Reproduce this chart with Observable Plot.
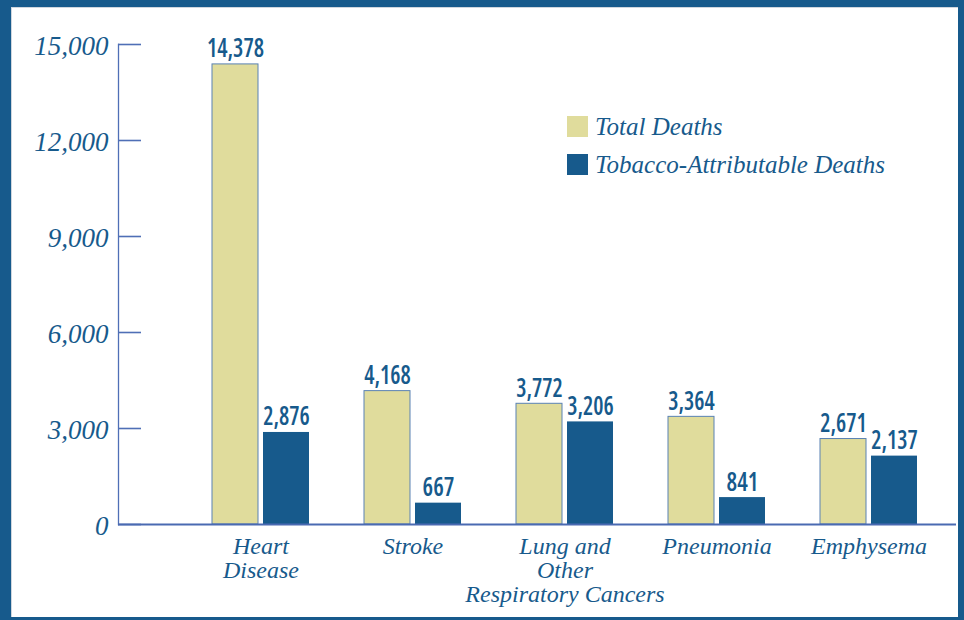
<!DOCTYPE html>
<html>
<head>
<meta charset="utf-8">
<script src="https://cdn.jsdelivr.net/npm/d3@7"></script>
<script src="https://cdn.jsdelivr.net/npm/@observablehq/plot@0.6"></script>
<style>
  body { margin: 0; background: #fff; }
  #wrap { position: relative; width: 964px; height: 620px; overflow: hidden; background: #fff; }
  #chart { position: absolute; left: 0; top: 0; }
  #frame { position: absolute; left: 0; top: 0; width: 964px; height: 620px; box-sizing: border-box;
           border-style: solid; border-color: #175a8c; border-width: 7px 6px 3px 11px;
           box-shadow: inset 1px 1px 0 #cfd6de; pointer-events: none; }
  #legend { position: absolute; left: 567px; top: 116px; font-family: "Liberation Serif", serif;
            font-style: italic; font-size: 25px; color: #175a8c; }
  .row { display: flex; align-items: center; height: 21px; margin-bottom: 17px; white-space: nowrap; }
  .sw { width: 21px; height: 21px; margin-right: 7px; flex: none; }
</style>
</head>
<body>
<div id="wrap">
  <div id="chart"></div>
  <div id="legend"></div>
  <div id="frame"></div>
</div>
<script>
const categories = ["Heart Disease", "Stroke", "Lung and Other Respiratory Cancers", "Pneumonia", "Emphysema"];
const categoryLabels = ["Heart\nDisease", "Stroke", "Lung and\nOther\nRespiratory Cancers", "Pneumonia", "Emphysema"];
const totalDeaths = [14378, 4168, 3772, 3364, 2671];
const tobaccoDeaths = [2876, 667, 3206, 841, 2137];
const yTicks = [0, 3000, 6000, 9000, 12000, 15000];
const seriesNames = ["Total Deaths", "Tobacco-Attributable Deaths"];
const seriesColors = ["#e0dc9c", "#175a8c"];

const ink = "#175a8c";
const axisBlue = "#4f6fb6";
const fmt = d3.format(",");

const totalRows = categories.map((c, i) => ({category: c, value: totalDeaths[i]}));
const tobaccoRows = categories.map((c, i) => ({category: c, value: tobaccoDeaths[i]}));

const W = 964, H = 620, mL = 118, mR = 8, mT = 44, mB = 96;

const serif = "'Liberation Serif', 'DejaVu Serif', serif";
const narrow = "'DejaVu Sans Condensed', 'DejaVu Sans', sans-serif";
const valueSize = 27;

const chart = Plot.plot({
  width: W, height: H,
  marginLeft: mL, marginRight: mR, marginTop: mT, marginBottom: mB,
  style: {background: "transparent", overflow: "visible"},
  x: {type: "band", domain: categories, range: [210, 918], paddingInner: 0.364, paddingOuter: 0, axis: null},
  y: {domain: [0, 15000], axis: null},
  marks: [
    Plot.frame({anchor: "left", stroke: axisBlue, strokeWidth: 1.3}),
    Plot.ruleY(yTicks, {stroke: axisBlue, strokeWidth: 1.6, insetRight: (W - mR) - 141}),
    Plot.axisY({ticks: yTicks, tickSize: 0, tickPadding: 10, tickFormat: fmt, label: null,
      fontSize: 27, fontStyle: "italic", fontFamily: serif, fill: ink, dy: 2}),
    Plot.barY(totalRows, {x: "category", y: "value", fill: seriesColors[0], stroke: "#5a82b4", strokeWidth: 1, insetRight: 51}),
    Plot.barY(tobaccoRows, {x: "category", y: "value", fill: seriesColors[1], insetLeft: 51}),
    Plot.ruleY([0], {stroke: "#4a6ab2", strokeWidth: 2}),
    Plot.text(totalRows, {x: "category", y: "value", text: d => fmt(d.value), dx: -25.5, dy: -7,
      lineAnchor: "bottom", fontSize: valueSize, fontWeight: "bold", fontFamily: narrow, fill: ink}),
    Plot.text(tobaccoRows, {x: "category", y: "value", text: d => fmt(d.value), dx: 25.5, dy: -7,
      lineAnchor: "bottom", fontSize: valueSize, fontWeight: "bold", fontFamily: narrow, fill: ink}),
    Plot.axisX({tickSize: 0, tickPadding: 12, label: null,
      tickFormat: d => categoryLabels[categories.indexOf(d)],
      fontSize: 24, fontStyle: "italic", fontFamily: serif, fill: ink, lineHeight: 1.0})
  ]
});
document.getElementById("chart").append(chart);

// pick the narrowest available face for the value labels (the reference uses a condensed sans)
const candidates = [
  {family: "'Roboto Condensed'", stretch: "normal", weight: "bold"},
  {family: "'Liberation Sans Narrow'", stretch: "normal", weight: "bold"},
  {family: "'Noto Sans'", stretch: "62.5%", weight: "600"},
  {family: "'Open Sans'", stretch: "75%", weight: "600"},
  {family: "'DejaVu Sans Condensed'", stretch: "normal", weight: "bold"}
];
const svgNS = "http://www.w3.org/2000/svg";
let best = candidates[candidates.length - 1], bestLen = Infinity;
for (const c of candidates) {
  const t = document.createElementNS(svgNS, "text");
  t.textContent = "14,378";
  t.setAttribute("font-size", valueSize);
  t.style.fontFamily = c.family + ", 'DejaVu Sans'";
  t.style.fontStretch = c.stretch;
  t.style.fontWeight = c.weight;
  chart.append(t);
  const len = t.getComputedTextLength();
  t.remove();
  if (len < bestLen - 0.5) { bestLen = len; best = c; }
}
chart.querySelectorAll('g[aria-label="text"] text').forEach(t => {
  t.style.fontFamily = best.family + ", 'DejaVu Sans'";
  t.style.fontStretch = best.stretch;
  t.style.fontWeight = best.weight;
  const s = t.textContent;
  const digits = (s.match(/\d/g) || []).length, commas = (s.match(/,/g) || []).length;
  const target = digits * 10.6 + commas * 4;
  const len = t.getComputedTextLength();
  if (len > target * 1.03) {
    t.setAttribute("textLength", target.toFixed(1));
    t.setAttribute("lengthAdjust", "spacingAndGlyphs");
  }
});

const legend = document.getElementById("legend");
seriesNames.forEach((name, i) => {
  const row = document.createElement("div");
  row.className = "row";
  const sw = document.createElement("div");
  sw.className = "sw";
  sw.style.background = seriesColors[i];
  const label = document.createElement("span");
  label.textContent = name;
  row.append(sw, label);
  legend.append(row);
});
</script>
</body>
</html>
